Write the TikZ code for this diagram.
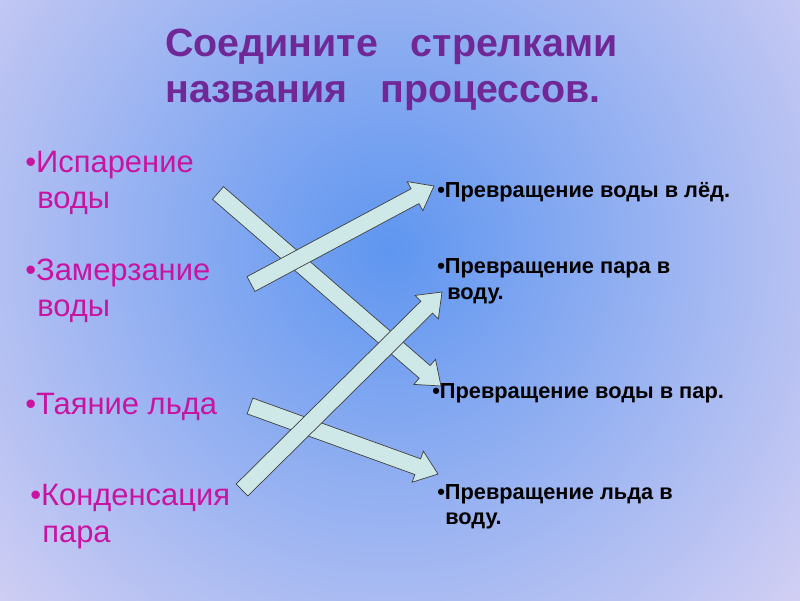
\documentclass[tikz,border=0pt]{standalone}
\usepackage{fontspec}
\setmainfont{Liberation Sans}
\usetikzlibrary{shapes.arrows,calc}
\definecolor{bgout}{RGB}{240,222,244}
\definecolor{bgin}{RGB}{95,150,240}
\definecolor{titlec}{RGB}{112,40,150}
\definecolor{labc}{RGB}{200,20,160}
\definecolor{arrc}{RGB}{205,232,230}
\begin{document}
\begin{tikzpicture}[x=0.025cm,y=-0.025cm,
  title/.style={anchor=west,inner sep=0,text=titlec,font=\fontsize{28}{32}\selectfont\bfseries},
  lab/.style={anchor=west,inner sep=0,text=labc,font=\fontsize{22}{26}\selectfont},
  rlab/.style={anchor=west,inner sep=0,text=black,font=\fontsize{15.5}{18}\selectfont\bfseries},
  barrow/.style={single arrow,draw=black!75,fill=arrc,line width=0.5pt,text height=0pt,text depth=0pt,inner xsep=0pt,inner ysep=5.7pt,single arrow head extend=5.8pt,single arrow tip angle=75,outer sep=0,anchor=tail}]
\useasboundingbox (0,0) rectangle (800,600);
\fill[bgout] (0,0) rectangle (800,600);
\begin{scope}
\clip (0,0) rectangle (800,600);
\shade[inner color=bgin,outer color=bgout] (390,250) circle (680);
\end{scope}
\node[title] (t1) at (165,47) {Соедините\ \ \ стрелками};
\node[title] (t2) at (165,96) {названия\ \ \ процессов.};
\node[lab] (l1) at (25,165) {•Испарение};
\node[lab] (l1b) at (37,203) {воды};
\node[lab] (l2) at (25,273) {•Замерзание};
\node[lab] (l2b) at (37,311) {воды};
\node[lab] (l3) at (25,407) {•Таяние льда};
\node[lab] (l4) at (30,498) {•Конденсация};
\node[lab] (l4b) at (42,537) {пара};
\node[rlab] (r1) at (437,192) {•Превращение воды в лёд.};
\node[rlab] (r2) at (437,268) {•Превращение пара в};
\node[rlab] (r2b) at (447,296) {воду.};
\node[rlab] (r3) at (432,393) {•Превращение воды в пар.};
\node[rlab] (r4) at (437,494) {•Превращение льда в};
\node[rlab] (r4b) at (445,521) {воду.};
\coordinate (a1s) at (218,193); \coordinate (a1e) at (441,386);
\coordinate (a2s) at (251,284); \coordinate (a2e) at (434,186);
\coordinate (a3s) at (242,490); \coordinate (a3e) at (442,292);
\coordinate (a4s) at (250,406); \coordinate (a4e) at (438,474);
\foreach \s/\e in {a1s/a1e,a2s/a2e,a4s/a4e,a3s/a3e}{
  \path let \p1=($(\e)-(\s)$), \n1={atan2(\y1,\x1)}, \n2={veclen(\x1,\y1)} in
    node[barrow,minimum height=\n2,rotate=\n1] at (\s) {};
}
\end{tikzpicture}
\end{document}
